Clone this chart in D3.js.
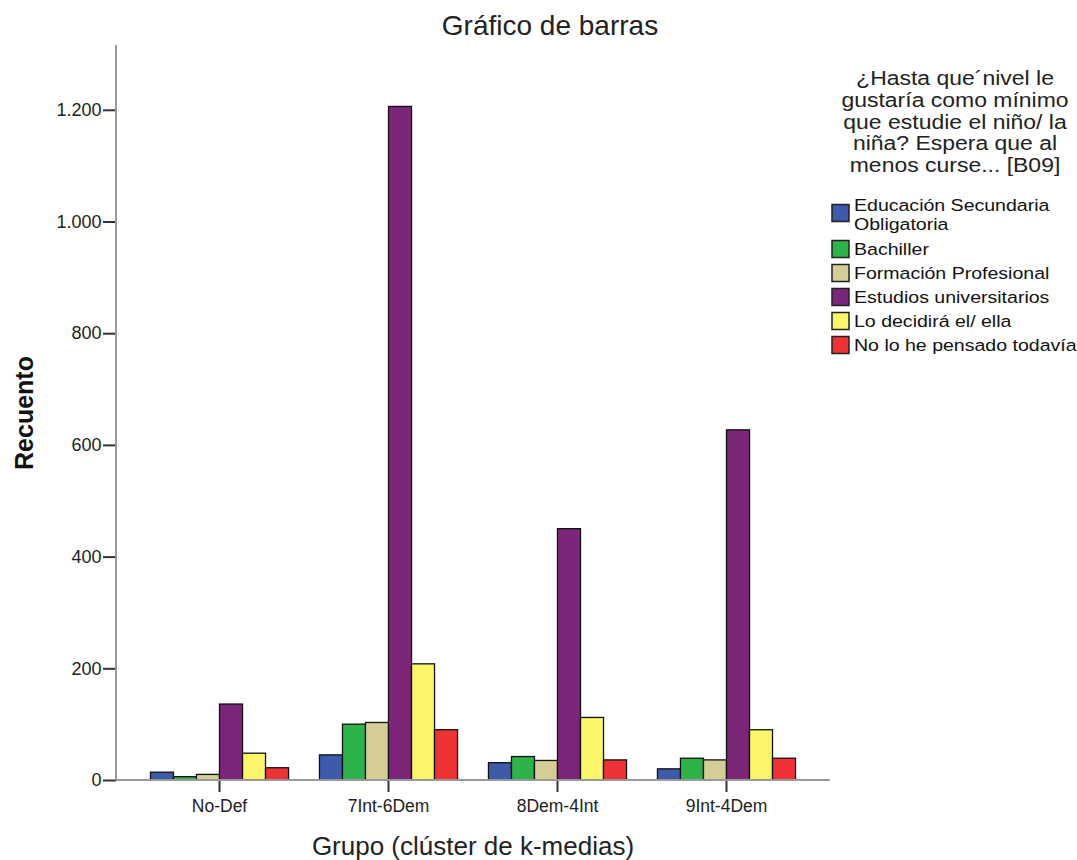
<!DOCTYPE html>
<html>
<head>
<meta charset="utf-8">
<script src="https://cdn.jsdelivr.net/npm/d3@7"></script>
<style>
  html, body { margin: 0; padding: 0; background: #fff; }
  svg { display: block; font-family: "Liberation Sans", Arial, sans-serif; }
</style>
</head>
<body>
<svg id="chart" width="1077" height="860"></svg>
<script>
const groups = ["No-Def", "7Int-6Dem", "8Dem-4Int", "9Int-4Dem"];
const seriesNames = [
  "Educación Secundaria Obligatoria",
  "Bachiller",
  "Formación Profesional",
  "Estudios universitarios",
  "Lo decidirá el/ ella",
  "No lo he pensado todavía"
];
const legendLabels = [
  ["Educación Secundaria", "Obligatoria"],
  ["Bachiller"],
  ["Formación Profesional"],
  ["Estudios universitarios"],
  ["Lo decidirá el/ ella"],
  ["No lo he pensado todavía"]
];
const secundaria   = [14, 45, 31, 20];
const bachiller    = [6, 100, 42, 39];
const formacion    = [10, 103, 35, 36];
const universidad  = [136, 1206, 450, 627];
const decidira     = [48, 208, 112, 90];
const noPensado    = [22, 90, 36, 39];
const seriesValues = [secundaria, bachiller, formacion, universidad, decidira, noPensado];
const colors = ["#3D5AAB", "#2EB24A", "#D4CE96", "#7C2679", "#FBF56A", "#EE3236"];
const yTicks = [0, 200, 400, 600, 800, 1000, 1200];
const legendTitle = ["¿Hasta que´nivel le", "gustaría como mínimo", "que estudie el niño/ la", "niña? Espera que al", "menos curse... [B09]"];

const svg = d3.select("#chart");
const pLeft = 116, pRight = 830, pTop = 45, pBottom = 780;

const x = d3.scaleBand().domain(groups).range([pLeft, pRight]).paddingInner(0.183).paddingOuter(0.204);
const xs = d3.scaleBand().domain(d3.range(seriesNames.length)).range([0, x.bandwidth()]);
const y = d3.scaleLinear().domain([0, 1316]).range([pBottom, pTop]);

const fmt = v => d3.format(",")(v).replace(/,/g, ".");

// Bars
const gGroups = svg.append("g").selectAll("g").data(groups).join("g")
  .attr("transform", d => `translate(${x(d)},0)`);
gGroups.selectAll("rect").data((g, gi) => seriesValues.map((s, si) => ({si, v: s[gi]})))
  .join("rect")
  .attr("x", d => xs(d.si))
  .attr("width", xs.bandwidth())
  .attr("y", d => y(d.v))
  .attr("height", d => pBottom - y(d.v))
  .attr("fill", d => colors[d.si])
  .attr("stroke", "#111")
  .attr("stroke-width", 1.3);

// Y axis
const yAxis = d3.axisLeft(y).tickValues(yTicks).tickFormat(fmt).tickSize(13).tickPadding(1.5);
const gy = svg.append("g").attr("transform", `translate(${pLeft},0)`).call(yAxis);
gy.select(".domain").remove();
gy.selectAll(".tick line").attr("stroke", "#333").attr("stroke-width", 2);
gy.selectAll(".tick text").attr("font-size", 18).attr("fill", "#222")
  .attr("font-family", "'Liberation Sans', Arial, sans-serif");
svg.append("line").attr("x1", pLeft).attr("x2", pLeft).attr("y1", pTop).attr("y2", pBottom)
  .attr("stroke", "#999").attr("stroke-width", 2);

// X axis
const xAxis = d3.axisBottom(x).tickSize(12).tickPadding(8);
const gx = svg.append("g").attr("transform", `translate(0,${pBottom})`).call(xAxis);
gx.select(".domain").remove();
gx.selectAll(".tick line").attr("stroke", "#333").attr("stroke-width", 2);
gx.selectAll(".tick text").attr("font-size", 17.5).attr("fill", "#222")
  .attr("font-family", "'Liberation Sans', Arial, sans-serif");
svg.append("line").attr("x1", pLeft).attr("x2", pRight).attr("y1", pBottom).attr("y2", pBottom)
  .attr("stroke", "#999").attr("stroke-width", 2);

// Title
svg.append("text").attr("x", 550).attr("y", 35).attr("text-anchor", "middle")
  .attr("font-size", 28).attr("fill", "#222").text("Gráfico de barras");

// Axis labels
svg.append("text").attr("x", 473).attr("y", 855).attr("text-anchor", "middle")
  .attr("font-size", 26).attr("fill", "#222").text("Grupo (clúster de k-medias)");
svg.append("text").attr("transform", "translate(33,413) rotate(-90)").attr("text-anchor", "middle")
  .attr("font-size", 25).attr("font-weight", "bold").attr("fill", "#111").text("Recuento");

// Legend title (horizontally widened to match the reference glyph widths)
svg.append("g").selectAll("text").data(legendTitle).join("text")
  .attr("transform", (d, i) => `translate(955,${85 + i * 21.75}) scale(1.19,1)`)
  .attr("text-anchor", "middle").attr("font-size", 19.3).attr("fill", "#222")
  .text(d => d);

// Legend items
const itemY = [213, 249, 273, 297, 321, 345];
const li = svg.append("g").selectAll("g").data(seriesNames).join("g");
li.append("rect")
  .attr("x", 832).attr("y", (d, i) => itemY[i] - 8.5)
  .attr("width", 17).attr("height", 17)
  .attr("fill", (d, i) => colors[i]).attr("stroke", "#222").attr("stroke-width", 1.5);
li.each(function(d, i) {
  const lines = legendLabels[i];
  const startY = lines.length === 1 ? itemY[i] + 6 : itemY[i] - 2;
  d3.select(this).selectAll("text.l").data(lines).join("text")
    .attr("class", "l")
    .attr("transform", (t, j) => `translate(854,${startY + j * 19}) scale(1.15,1)`)
    .attr("font-size", 17).attr("fill", "#111")
    .text(t => t);
});
</script>
</body>
</html>
